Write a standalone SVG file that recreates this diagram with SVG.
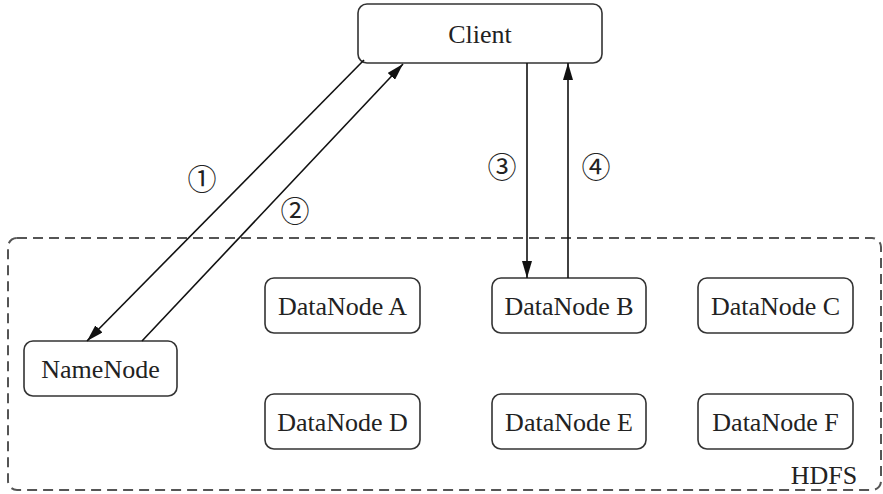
<svg xmlns="http://www.w3.org/2000/svg" width="883" height="494" viewBox="0 0 883 494">
<style>
.node rect{fill:#fff;stroke:#333;stroke-width:1.6}
text{font-family:"Liberation Serif","Times New Roman",serif;font-size:26px;fill:#222;text-anchor:middle}
.num{font-family:"Liberation Serif","DejaVu Serif","Noto Sans CJK SC",serif;font-size:29px}
.conn line{stroke:#111;stroke-width:1.6}
</style>
<defs>
<marker id="ah" viewBox="0 0 17 10" refX="17" refY="5" markerWidth="17" markerHeight="10" markerUnits="userSpaceOnUse" orient="auto">
<path d="M0,0 L17,5 L0,10 Z" fill="#111"/>
</marker>
</defs>
<rect width="883" height="494" fill="#fff"/>
<g id="hdfs">
<rect x="8" y="238" width="873" height="252" rx="9" fill="none" stroke="#555" stroke-width="2" stroke-dasharray="10,6"/>
<text x="824" y="484">HDFS</text>
</g>
<g id="client" class="node"><rect x="358" y="4" width="244" height="59" rx="9"/><text x="480" y="43">Client</text></g>
<g id="namenode" class="node"><rect x="24" y="341" width="153" height="55" rx="9"/><text x="100.5" y="378">NameNode</text></g>
<g id="dna" class="node"><rect x="265" y="278" width="155" height="55" rx="9"/><text x="342.5" y="315">DataNode A</text></g>
<g id="dnb" class="node"><rect x="492" y="278" width="154" height="55" rx="9"/><text x="569" y="315">DataNode B</text></g>
<g id="dnc" class="node"><rect x="698" y="278" width="155" height="55" rx="9"/><text x="775.5" y="315">DataNode C</text></g>
<g id="dnd" class="node"><rect x="265" y="394" width="155" height="55" rx="9"/><text x="342.5" y="431">DataNode D</text></g>
<g id="dne" class="node"><rect x="492" y="394" width="154" height="55" rx="9"/><text x="569" y="431">DataNode E</text></g>
<g id="dnf" class="node"><rect x="698" y="394" width="155" height="55" rx="9"/><text x="775.5" y="431">DataNode F</text></g>
<g id="connectors" class="conn">
<line x1="364" y1="60" x2="87" y2="341" marker-end="url(#ah)"/>
<line x1="142" y1="341" x2="403" y2="64" marker-end="url(#ah)"/>
<line x1="527" y1="63" x2="527" y2="278" marker-end="url(#ah)"/>
<line x1="568" y1="278" x2="568" y2="63" marker-end="url(#ah)"/>
</g>
<g id="labels">
<text class="num" x="202" y="190">①</text>
<text class="num" x="295" y="222">②</text>
<text class="num" x="502" y="178">③</text>
<text class="num" x="596" y="178">④</text>
</g>
</svg>
